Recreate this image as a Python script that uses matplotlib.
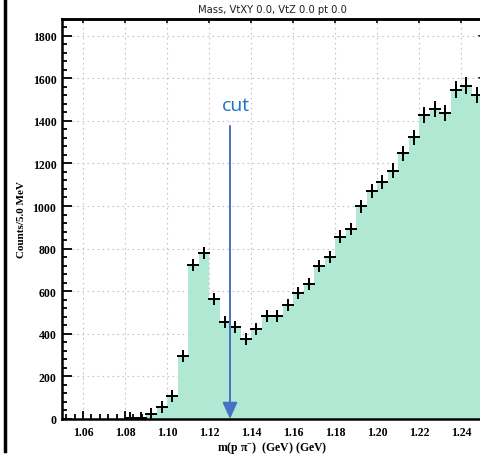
import numpy as np
import matplotlib
matplotlib.use("Agg")
import matplotlib.pyplot as plt
from matplotlib.lines import Line2D
from matplotlib.ticker import MultipleLocator, FormatStrFormatter, NullLocator

# Invariant mass histogram, 5 MeV bins
bin_lo = 1.05
bin_hi = 1.25
bin_width = 0.005
counts = [0, 0, 0, 0, 0, 0, 3, 6, 22, 58,
          110, 294, 724, 779, 563, 457, 430, 376, 422, 482,
          482, 535, 592, 634, 720, 759, 856, 892, 998, 1069,
          1114, 1166, 1247, 1322, 1427, 1455, 1437, 1546, 1565, 1521]
cut_value = 1.13

title = "Mass, VtXY 0.0, VtZ 0.0 pt 0.0"
xlabel = r"m(p $\mathbf{\pi^{-}}$)  (GeV) (GeV)"
ylabel = "Counts/5.0 MeV"

edges = np.round(np.arange(bin_lo, bin_hi + bin_width / 2, bin_width), 4)
centers = 0.5 * (edges[:-1] + edges[1:])
counts = np.array(counts, dtype=float)

plt.rcParams["mathtext.fontset"] = "custom"
plt.rcParams["mathtext.bf"] = "Liberation Serif:bold"
plt.rcParams["mathtext.rm"] = "Liberation Serif:bold"

W, H = 480, 456
fig = plt.figure(figsize=(W / 100, H / 100), dpi=100)
ax = fig.add_axes([62 / W, 1 - 420 / H, 420 / W, 400 / H])

# filled histogram
ax.stairs(counts, edges, fill=True, color="#b1e8d3", zorder=2)

# data points with sqrt(N) errors
nz = counts > 0
ax.errorbar(centers[nz], counts[nz], xerr=bin_width / 2, yerr=np.sqrt(counts[nz]),
            fmt="+", color="black", ms=9, mew=1.4, elinewidth=1.4, capsize=0, zorder=4)

ax.set_xlim(bin_lo, bin_hi)
ax.set_ylim(0, 1878)

ax.xaxis.set_major_locator(MultipleLocator(0.02))
ax.xaxis.set_minor_locator(MultipleLocator(0.004))
ax.yaxis.set_major_locator(MultipleLocator(200))
ax.yaxis.set_minor_locator(MultipleLocator(40))
ax.xaxis.set_major_formatter(FormatStrFormatter("%.2f"))

ax.tick_params(which="both", direction="in", width=1.3, color="black")
ax.tick_params(axis="x", which="major", length=6, pad=5)
ax.tick_params(axis="y", which="major", length=7.5, pad=4)
ax.tick_params(which="minor", length=3.5)
for lab in ax.get_xticklabels() + ax.get_yticklabels():
    lab.set_fontfamily("Liberation Serif")
    lab.set_fontweight("bold")
    lab.set_fontsize(8.5)

# short major ticks on the opposite sides
top = ax.secondary_xaxis("top")
top.xaxis.set_major_locator(MultipleLocator(0.02))
top.xaxis.set_minor_locator(NullLocator())
top.tick_params(direction="in", length=3, width=1.2, labeltop=False)
right = ax.secondary_yaxis("right")
right.yaxis.set_major_locator(MultipleLocator(200))
right.yaxis.set_minor_locator(NullLocator())
right.tick_params(direction="in", length=3, width=1.2, labelright=False)
for sec in (top, right):
    for sp in sec.spines.values():
        sp.set_linewidth(1.8)

ax.grid(True, which="major", color="#c4c4c4", linestyle=(0, (1.5, 3)), linewidth=0.8, zorder=1)
ax.set_axisbelow(True)
for sp in ax.spines.values():
    sp.set_linewidth(1.8)
    sp.set_zorder(5)

ax.set_title(title, family="DejaVu Sans", fontsize=7.2, pad=5, color="#222222")
ax.set_xlabel(xlabel, family="Liberation Serif", fontweight="bold", fontsize=8.5, labelpad=0.5)
ax.set_ylabel(ylabel, family="Liberation Serif", fontweight="bold", fontsize=8, labelpad=5)

# cut marker
ax.annotate("", xy=(cut_value, 0), xytext=(cut_value, 1376),
            arrowprops=dict(arrowstyle="-|>,head_length=1.0,head_width=0.45",
                            color="#4472c4", lw=1.4, shrinkA=0, shrinkB=0),
            zorder=6)
ax.text(cut_value + 0.0028, 1451, "cut", ha="center", va="baseline", color="#1a73c6",
        family="Open Sans", fontsize=14, zorder=6)

# window frame on the left
fig.add_artist(Line2D([4.5 / W, 4.5 / W], [1 - 452 / H, 1.0], transform=fig.transFigure,
                      color="black", lw=2.5))

fig.savefig("out.png", dpi=100)
